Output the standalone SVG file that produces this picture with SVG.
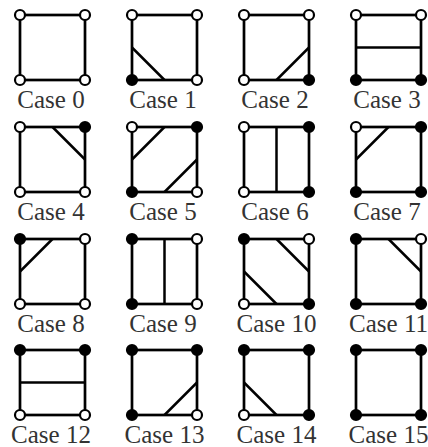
<svg xmlns="http://www.w3.org/2000/svg" width="428" height="447" viewBox="0 0 428 447">
<style>
.sq{fill:none;stroke:#000;stroke-width:2.7}
.cut{stroke:#000;stroke-width:2.5}
.o{fill:#fff;stroke:#000;stroke-width:2.2}
.f{fill:#000;stroke:#000;stroke-width:2.2}
.lb{font-family:"Liberation Serif","Times New Roman",serif;font-size:25px;text-anchor:middle;fill:#333}
</style>
<rect width="428" height="447" fill="#fff"/>
<g id="case0" transform="translate(20,15)">
<rect class="sq" width="65" height="65"/>
<circle class="o" cx="0" cy="0" r="5"/><circle class="o" cx="65" cy="0" r="5"/><circle class="o" cx="65" cy="65" r="5"/><circle class="o" cx="0" cy="65" r="5"/>
<text class="lb" x="31" y="92.5">Case 0</text>
</g>
<g id="case1" transform="translate(132,15)">
<rect class="sq" width="65" height="65"/>
<line class="cut" x1="0" y1="32.5" x2="32.5" y2="65"/>
<circle class="o" cx="0" cy="0" r="5"/><circle class="o" cx="65" cy="0" r="5"/><circle class="o" cx="65" cy="65" r="5"/><circle class="f" cx="0" cy="65" r="5"/>
<text class="lb" x="31" y="92.5">Case 1</text>
</g>
<g id="case2" transform="translate(244,15)">
<rect class="sq" width="65" height="65"/>
<line class="cut" x1="32.5" y1="65" x2="65" y2="32.5"/>
<circle class="o" cx="0" cy="0" r="5"/><circle class="o" cx="65" cy="0" r="5"/><circle class="f" cx="65" cy="65" r="5"/><circle class="o" cx="0" cy="65" r="5"/>
<text class="lb" x="31" y="92.5">Case 2</text>
</g>
<g id="case3" transform="translate(356,15)">
<rect class="sq" width="65" height="65"/>
<line class="cut" x1="0" y1="32.5" x2="65" y2="32.5"/>
<circle class="o" cx="0" cy="0" r="5"/><circle class="o" cx="65" cy="0" r="5"/><circle class="f" cx="65" cy="65" r="5"/><circle class="f" cx="0" cy="65" r="5"/>
<text class="lb" x="31" y="92.5">Case 3</text>
</g>
<g id="case4" transform="translate(20,127)">
<rect class="sq" width="65" height="65"/>
<line class="cut" x1="32.5" y1="0" x2="65" y2="32.5"/>
<circle class="o" cx="0" cy="0" r="5"/><circle class="f" cx="65" cy="0" r="5"/><circle class="o" cx="65" cy="65" r="5"/><circle class="o" cx="0" cy="65" r="5"/>
<text class="lb" x="31" y="92.5">Case 4</text>
</g>
<g id="case5" transform="translate(132,127)">
<rect class="sq" width="65" height="65"/>
<line class="cut" x1="0" y1="32.5" x2="32.5" y2="0"/>
<line class="cut" x1="32.5" y1="65" x2="65" y2="32.5"/>
<circle class="o" cx="0" cy="0" r="5"/><circle class="f" cx="65" cy="0" r="5"/><circle class="o" cx="65" cy="65" r="5"/><circle class="f" cx="0" cy="65" r="5"/>
<text class="lb" x="31" y="92.5">Case 5</text>
</g>
<g id="case6" transform="translate(244,127)">
<rect class="sq" width="65" height="65"/>
<line class="cut" x1="32.5" y1="0" x2="32.5" y2="65"/>
<circle class="o" cx="0" cy="0" r="5"/><circle class="f" cx="65" cy="0" r="5"/><circle class="f" cx="65" cy="65" r="5"/><circle class="o" cx="0" cy="65" r="5"/>
<text class="lb" x="31" y="92.5">Case 6</text>
</g>
<g id="case7" transform="translate(356,127)">
<rect class="sq" width="65" height="65"/>
<line class="cut" x1="32.5" y1="0" x2="0" y2="32.5"/>
<circle class="o" cx="0" cy="0" r="5"/><circle class="f" cx="65" cy="0" r="5"/><circle class="f" cx="65" cy="65" r="5"/><circle class="f" cx="0" cy="65" r="5"/>
<text class="lb" x="31" y="92.5">Case 7</text>
</g>
<g id="case8" transform="translate(20,239)">
<rect class="sq" width="65" height="65"/>
<line class="cut" x1="0" y1="32.5" x2="32.5" y2="0"/>
<circle class="f" cx="0" cy="0" r="5"/><circle class="o" cx="65" cy="0" r="5"/><circle class="o" cx="65" cy="65" r="5"/><circle class="o" cx="0" cy="65" r="5"/>
<text class="lb" x="31" y="92.5">Case 8</text>
</g>
<g id="case9" transform="translate(132,239)">
<rect class="sq" width="65" height="65"/>
<line class="cut" x1="32.5" y1="0" x2="32.5" y2="65"/>
<circle class="f" cx="0" cy="0" r="5"/><circle class="o" cx="65" cy="0" r="5"/><circle class="o" cx="65" cy="65" r="5"/><circle class="f" cx="0" cy="65" r="5"/>
<text class="lb" x="31" y="92.5">Case 9</text>
</g>
<g id="case10" transform="translate(244,239)">
<rect class="sq" width="65" height="65"/>
<line class="cut" x1="32.5" y1="0" x2="65" y2="32.5"/>
<line class="cut" x1="0" y1="32.5" x2="32.5" y2="65"/>
<circle class="f" cx="0" cy="0" r="5"/><circle class="o" cx="65" cy="0" r="5"/><circle class="f" cx="65" cy="65" r="5"/><circle class="o" cx="0" cy="65" r="5"/>
<text class="lb" x="32.5" y="92.5">Case 10</text>
</g>
<g id="case11" transform="translate(356,239)">
<rect class="sq" width="65" height="65"/>
<line class="cut" x1="32.5" y1="0" x2="65" y2="32.5"/>
<circle class="f" cx="0" cy="0" r="5"/><circle class="o" cx="65" cy="0" r="5"/><circle class="f" cx="65" cy="65" r="5"/><circle class="f" cx="0" cy="65" r="5"/>
<text class="lb" x="32.5" y="92.5">Case 11</text>
</g>
<g id="case12" transform="translate(20,350)">
<rect class="sq" width="65" height="65"/>
<line class="cut" x1="0" y1="32.5" x2="65" y2="32.5"/>
<circle class="f" cx="0" cy="0" r="5"/><circle class="f" cx="65" cy="0" r="5"/><circle class="o" cx="65" cy="65" r="5"/><circle class="o" cx="0" cy="65" r="5"/>
<text class="lb" x="31" y="92.5">Case 12</text>
</g>
<g id="case13" transform="translate(132,350)">
<rect class="sq" width="65" height="65"/>
<line class="cut" x1="32.5" y1="65" x2="65" y2="32.5"/>
<circle class="f" cx="0" cy="0" r="5"/><circle class="f" cx="65" cy="0" r="5"/><circle class="o" cx="65" cy="65" r="5"/><circle class="f" cx="0" cy="65" r="5"/>
<text class="lb" x="32.5" y="92.5">Case 13</text>
</g>
<g id="case14" transform="translate(244,350)">
<rect class="sq" width="65" height="65"/>
<line class="cut" x1="0" y1="32.5" x2="32.5" y2="65"/>
<circle class="f" cx="0" cy="0" r="5"/><circle class="f" cx="65" cy="0" r="5"/><circle class="f" cx="65" cy="65" r="5"/><circle class="o" cx="0" cy="65" r="5"/>
<text class="lb" x="32.5" y="92.5">Case 14</text>
</g>
<g id="case15" transform="translate(356,350)">
<rect class="sq" width="65" height="65"/>
<circle class="f" cx="0" cy="0" r="5"/><circle class="f" cx="65" cy="0" r="5"/><circle class="f" cx="65" cy="65" r="5"/><circle class="f" cx="0" cy="65" r="5"/>
<text class="lb" x="32.5" y="92.5">Case 15</text>
</g>
</svg>
